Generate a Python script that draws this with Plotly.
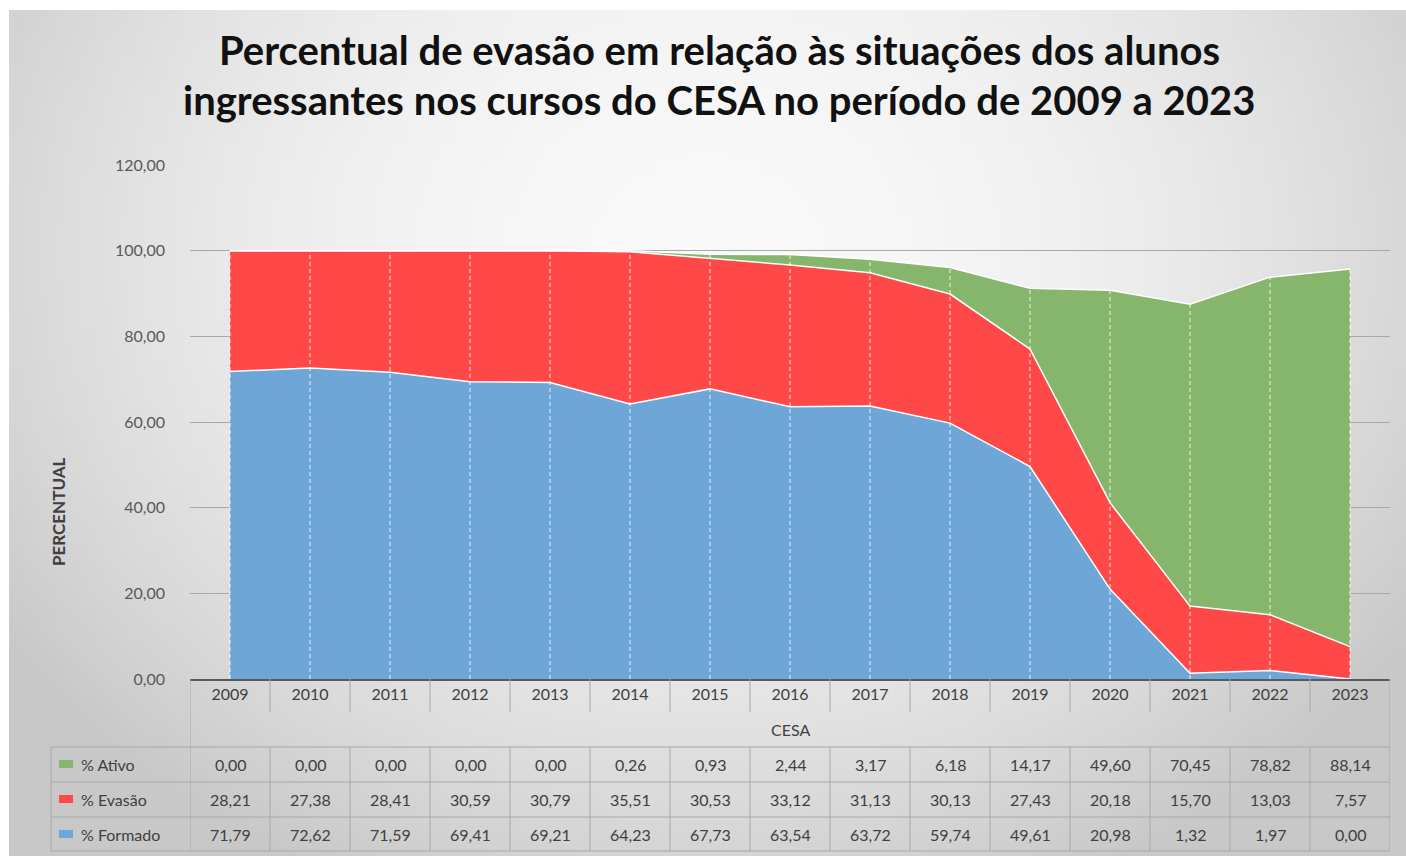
import struct
import zlib
import base64
import numpy as np
import plotly.graph_objects as go

years = ["2009", "2010", "2011", "2012", "2013", "2014", "2015", "2016",
         "2017", "2018", "2019", "2020", "2021", "2022", "2023"]
ativo = [0.00, 0.00, 0.00, 0.00, 0.00, 0.26, 0.93, 2.44, 3.17, 6.18,
         14.17, 49.60, 70.45, 78.82, 88.14]
evasao = [28.21, 27.38, 28.41, 30.59, 30.79, 35.51, 30.53, 33.12, 31.13,
          30.13, 27.43, 20.18, 15.70, 13.03, 7.57]
formado = [71.79, 72.62, 71.59, 69.41, 69.21, 64.23, 67.73, 63.54, 63.72,
           59.74, 49.61, 20.98, 1.32, 1.97, 0.00]

series = [  # bottom to top of the stack
    ("% Formado", formado, "#6FA6D8"),
    ("% Evasão", evasao, "#FF4949"),
    ("% Ativo", ativo, "#86B66B"),
]
table_rows = ["% Ativo", "% Evasão", "% Formado"]

# ---- layout geometry (pixels of the 1406x856 page) ----
W, H = 1406, 856
PL, PR, PT, PB = 190, 1390, 165, 679


def pxx(x):
    return (x - PL) / (PR - PL)


def pxy(y):
    return (PB - y) / (PB - PT)


def fmt(v):
    return f"{v:.2f}".replace(".", ",")


def gradient_uri(w=140, h=86):
    xs = np.linspace(0, 1, w)[None, :]
    ys = np.linspace(0, 1, h)[:, None]
    d2 = ((xs - 0.5) / 0.62) ** 2 + ((ys - 0.28) / 0.85) ** 2
    g = np.clip(249 - 50 * d2, 200, 250).astype(np.uint8)
    rgb = np.repeat(g[:, :, None], 3, axis=2)
    raw = b"".join(b"\x00" + rgb[r].tobytes() for r in range(h))

    def chunk(tag, data):
        return (struct.pack(">I", len(data)) + tag + data
                + struct.pack(">I", zlib.crc32(tag + data) & 0xFFFFFFFF))

    png = (b"\x89PNG\r\n\x1a\n"
           + chunk(b"IHDR", struct.pack(">IIBBBBB", w, h, 8, 2, 0, 0, 0))
           + chunk(b"IDAT", zlib.compress(raw, 9))
           + chunk(b"IEND", b""))
    return "data:image/png;base64," + base64.b64encode(png).decode()


FONT = "Lato, 'Open Sans', sans-serif"
TXT = "#404040"
GRID = "#A8A8A8"

fig = go.Figure()

for name, vals, color in series:
    fig.add_trace(go.Scatter(
        x=years, y=vals, name=name, mode="lines",
        stackgroup="one",
        line=dict(color="white", width=1.5),
        fillcolor=color,
        showlegend=False,
    ))

# dashed drop lines from 0 to the top of the stack
totals = [a + e + f for a, e, f in zip(ativo, evasao, formado)]
dx, dy = [], []
for yr, t in zip(years, totals):
    dx += [yr, yr, None]
    dy += [0, t, None]
fig.add_trace(go.Scatter(
    x=dx, y=dy, mode="lines", showlegend=False, hoverinfo="skip",
    line=dict(color="rgba(255,255,255,0.85)", width=1, dash="4px,3px"),
))

shapes = []
line_style = dict(color=GRID, width=1)
n = len(years)
# year-row separators and table grid
for i in range(1, n):
    shapes.append(dict(type="line", xref="x", yref="paper", x0=i - 0.5, x1=i - 0.5,
                       y0=pxy(PB), y1=pxy(712), line=line_style))
    shapes.append(dict(type="line", xref="x", yref="paper", x0=i - 0.5, x1=i - 0.5,
                       y0=pxy(747), y1=pxy(851), line=line_style))
for xv in (-0.5, n - 0.5):
    shapes.append(dict(type="line", xref="x", yref="paper", x0=xv, x1=xv,
                       y0=pxy(PB), y1=pxy(851), line=line_style))
shapes.append(dict(type="line", xref="paper", yref="paper", x0=pxx(51), x1=pxx(51),
                   y0=pxy(747), y1=pxy(851), line=line_style))
for yv in (747, 782, 817, 851):
    shapes.append(dict(type="line", xref="paper", yref="paper", x0=pxx(51), x1=pxx(PR),
                       y0=pxy(yv), y1=pxy(yv), line=line_style))

annotations = []
row_y = [764, 799, 834]
colors = {name: color for name, _, color in series}
values = {name: vals for name, vals, _ in series}
for label, yc in zip(table_rows, row_y):
    shapes.append(dict(type="rect", xref="paper", yref="paper",
                       x0=pxx(59), x1=pxx(73), y0=pxy(yc + 4), y1=pxy(yc - 4),
                       fillcolor=colors[label], line=dict(width=0)))
    annotations.append(dict(xref="paper", yref="paper", x=pxx(79), y=pxy(yc),
                            text=label, showarrow=False,
                            xanchor="left", yanchor="middle",
                            font=dict(family=FONT, size=16, color=TXT)))
    for i, v in enumerate(values[label]):
        annotations.append(dict(xref="x", yref="paper", x=i, y=pxy(yc),
                                text=fmt(v), showarrow=False,
                                xanchor="center", yanchor="middle",
                                font=dict(family=FONT, size=16, color=TXT)))

# titles
title_lines = [
    ("<b>Percentual de evasão em relação às situações dos alunos</b>", 50),
    ("<b>ingressantes nos cursos do CESA no período de 2009 a 2023</b>", 100),
]
for txt, yc in title_lines:
    annotations.append(dict(xref="paper", yref="paper", x=pxx(719), y=pxy(yc),
                            text=txt, showarrow=False,
                            xanchor="center", yanchor="middle",
                            font=dict(family=FONT, size=40, color="#111111")))
annotations.append(dict(xref="paper", yref="paper", x=pxx((PL + PR) / 2), y=pxy(729),
                        text="CESA", showarrow=False,
                        xanchor="center", yanchor="middle",
                        font=dict(family=FONT, size=16, color=TXT)))
annotations.append(dict(xref="paper", yref="paper", x=pxx(58), y=pxy(512),
                        text="<b>PERCENTUAL</b>", textangle=-90, showarrow=False,
                        xanchor="center", yanchor="middle",
                        font=dict(family=FONT, size=17, color=TXT)))

fig.update_layout(
    width=W, height=H,
    margin=dict(l=PL, r=W - PR, t=PT, b=H - PB, pad=0),
    paper_bgcolor="white",
    plot_bgcolor="rgba(0,0,0,0)",
    separators=",.",
    showlegend=False,
    font=dict(family=FONT, color=TXT),
    xaxis=dict(
        type="category", range=[-0.5, n - 0.5],
        showgrid=False, showline=True, linecolor="#595959", linewidth=2,
        ticks="", tickfont=dict(family=FONT, size=16, color=TXT),
        ticklabelstandoff=0, fixedrange=True,
    ),
    yaxis=dict(
        range=[0, 120], dtick=20, tickformat=".2f",
        showgrid=True, gridcolor=GRID, gridwidth=1, zeroline=False,
        showline=False, ticks="", ticklabelstandoff=24,
        tickfont=dict(family=FONT, size=16, color="#595959"), fixedrange=True,
    ),
    shapes=shapes,
    annotations=annotations,
    images=[dict(source=gradient_uri(), xref="paper", yref="paper",
                 x=pxx(9), y=pxy(10), sizex=(W - 9) / (PR - PL),
                 sizey=(H - 10) / (PB - PT), xanchor="left", yanchor="top",
                 sizing="stretch", layer="below")],
)

fig.write_html("out.html", config={"displayModeBar": False},
               post_script="document.body.style.margin='0';")
